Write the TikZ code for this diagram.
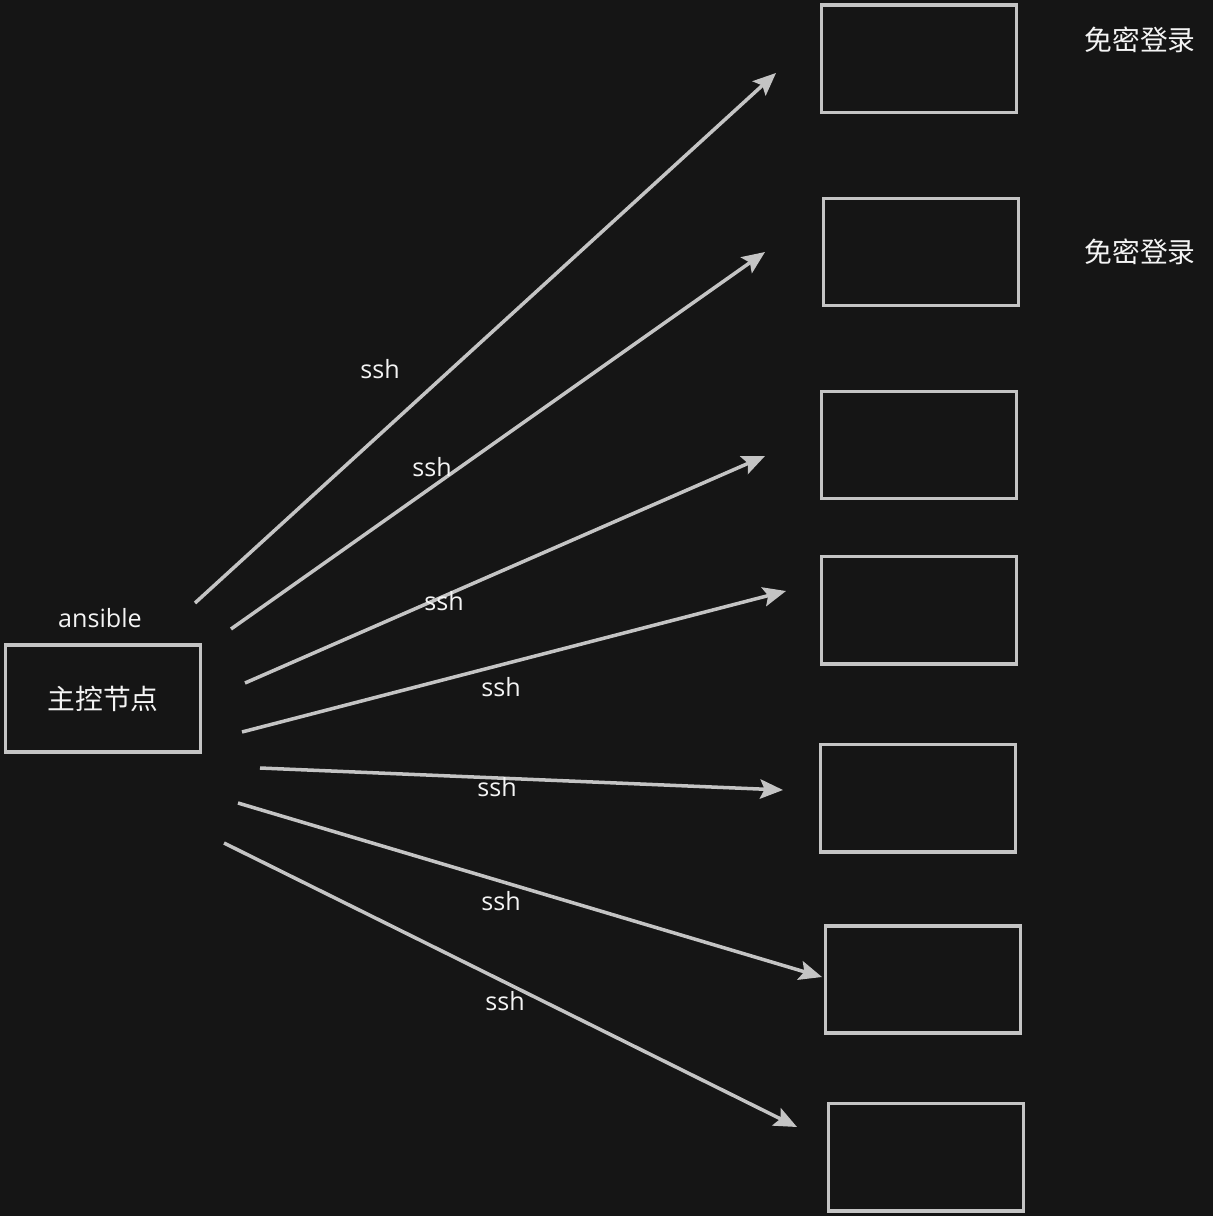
\documentclass[tikz,border=0pt]{standalone}
\usepackage{fontspec}
\setmainfont{Open Sans}
\newfontfamily\cjk{Noto Sans CJK SC}
\usetikzlibrary{arrows.meta,positioning}
\definecolor{canvasbg}{HTML}{151515}
\definecolor{edgegray}{HTML}{C4C4C4}
\definecolor{labelwhite}{HTML}{F4F4F4}

\begin{document}
\begin{tikzpicture}[x=0.02cm, y=-0.02cm,
  host/.style={draw=edgegray, line width=2pt, minimum width=3.9cm, minimum height=2.15cm, inner sep=0pt, fill=canvasbg},
  lbl/.style={text=labelwhite, font=\fontsize{14.3}{17}\selectfont, inner sep=1pt},
  cjklbl/.style={text=labelwhite, font=\cjk\fontsize{15.8}{18}\selectfont, inner sep=1pt},
  arr/.style={-{Stealth[length=13pt, width=11pt, inset=2.5pt]}, line width=2pt, edgegray}
]
  \fill[canvasbg] (0,0) rectangle (1213,1216);
  \useasboundingbox (0,0) rectangle (1213,1216);

  % master node
  \node[host, cjklbl, draw=edgegray, fill=canvasbg] (master) at (103,698.5) {主控节点};
  \node[lbl] (ansible) at (100,618) {ansible};

  % managed hosts
  \node[host] (h1) at (919,59) {};
  \node[host] (h2) at (921,252) {};
  \node[host] (h3) at (919,445) {};
  \node[host] (h4) at (919,610) {};
  \node[host] (h5) at (918,798) {};
  \node[host] (h6) at (923,979.5) {};
  \node[host] (h7) at (926,1157) {};

  \node[cjklbl] (nopass1) at (1140,40) {免密登录};
  \node[cjklbl] (nopass2) at (1140,252) {免密登录};

  % arrow ends
  \coordinate (s1) at (195,603);  \coordinate (e1) at (776,73);
  \coordinate (s2) at (231,629);  \coordinate (e2) at (765,252);
  \coordinate (s3) at (245,683);  \coordinate (e3) at (765,456);
  \coordinate (s4) at (242,732);  \coordinate (e4) at (786,591);
  \coordinate (s5) at (260,768);  \coordinate (e5) at (783,790);
  \coordinate (s6) at (238,803);  \coordinate (e6) at (822,977);
  \coordinate (s7) at (224,843);  \coordinate (e7) at (797,1127);

  \foreach \i in {1,...,7}
    \draw[arr] (s\i) -- (e\i);

  \node[lbl] (ssh1) at (380,369) {ssh};
  \node[lbl] (ssh2) at (432,467) {ssh};
  \node[lbl] (ssh3) at (444,601) {ssh};
  \node[lbl] (ssh4) at (501,687) {ssh};
  \node[lbl] (ssh5) at (497,787) {ssh};
  \node[lbl] (ssh6) at (501,901) {ssh};
  \node[lbl] (ssh7) at (505,1001) {ssh};
\end{tikzpicture}
\end{document}
